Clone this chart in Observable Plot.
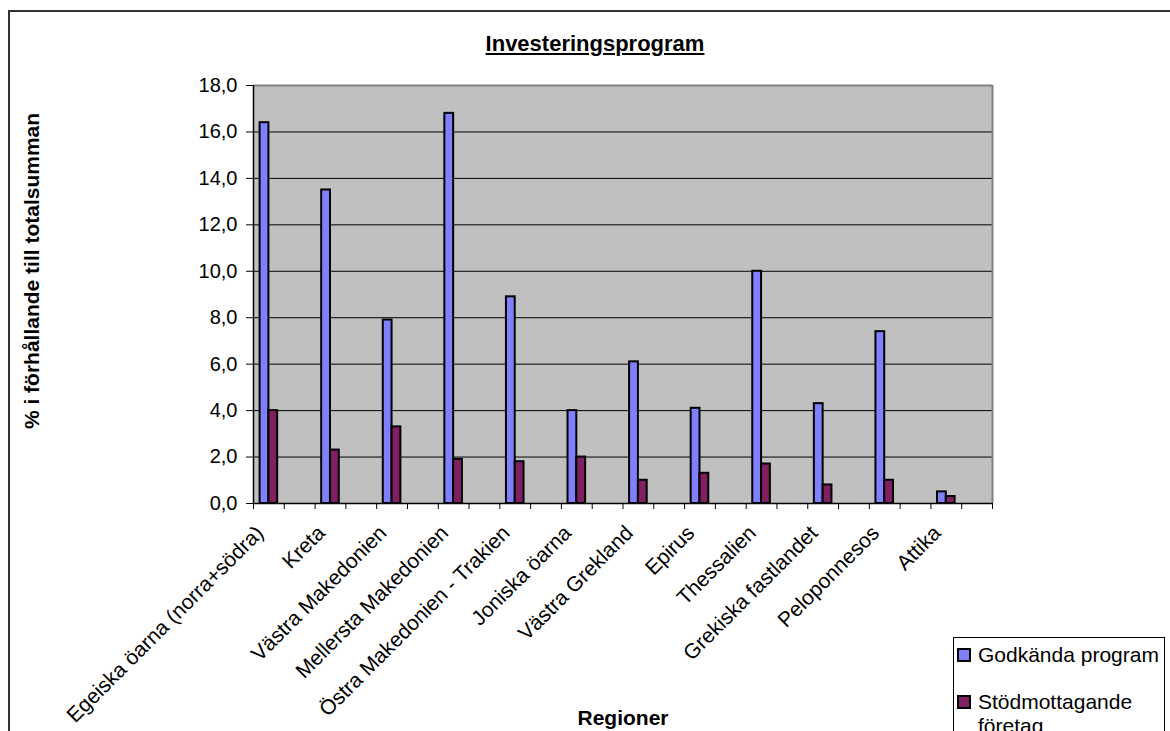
<!DOCTYPE html>
<html>
<head>
<meta charset="utf-8">
<script src="https://cdn.jsdelivr.net/npm/d3@7"></script>
<script src="https://cdn.jsdelivr.net/npm/@observablehq/plot@0.6"></script>
<style>
  html, body { margin: 0; padding: 0; background: #fff; overflow: hidden; }
  body { font-family: "Liberation Sans", Arial, sans-serif; }
  #wrap { position: relative; width: 1170px; height: 731px; overflow: hidden; }
  #outer { position: absolute; left: 8px; top: 10px; width: 1300px; height: 900px; border: 2px solid #333; box-sizing: border-box; }
  #chart { position: absolute; left: 0; top: 0; }
  .title { position: absolute; left: 0; width: 1190px; top: 33px; text-align: center; font-size: 22px; line-height: 22px; font-weight: bold; text-decoration: underline; }
  .ytitle { position: absolute; left: 32px; top: 271px; transform: translate(-50%, -50%) rotate(-90deg); white-space: nowrap; font-size: 21px; font-weight: bold; }
  .xtitle { position: absolute; left: 0; width: 1246px; top: 707px; text-align: center; font-size: 21px; line-height: 21px; font-weight: bold; }
  #legend { position: absolute; left: 953px; top: 637px; width: 212px; height: 200px; border: 1px solid #000; box-sizing: border-box; background: #fff; }
  .item { position: relative; padding-left: 24px; font-size: 21px; line-height: 24px; }
  .sw { position: absolute; left: 3px; top: 5px; width: 14px; height: 14px; border: 2px solid #000; box-sizing: border-box; }
</style>
</head>
<body>
<div id="wrap">
  <div id="outer"></div>
  <div id="chart"></div>
  <div class="title">Investeringsprogram</div>
  <div class="ytitle">% i förhållande till totalsumman</div>
  <div class="xtitle">Regioner</div>
  <div id="legend"></div>
</div>
<script>
// ---- data ----
const regions = [
  "Egeiska öarna (norra+södra)", "Kreta", "Västra Makedonien", "Mellersta Makedonien",
  "Östra Makedonien - Trakien", "Joniska öarna", "Västra Grekland", "Epirus",
  "Thessalien", "Grekiska fastlandet", "Peloponnesos", "Attika"
];
const godkanda = [16.4, 13.5, 7.9, 16.8, 8.9, 4.0, 6.1, 4.1, 10.0, 4.3, 7.4, 0.5];
const stod     = [4.0, 2.3, 3.3, 1.9, 1.8, 2.0, 1.0, 1.3, 1.7, 0.8, 1.0, 0.3];
const series = ["Godkända program", "Stödmottagande företag"];
const colors = ["#8080FF", "#802060"];
const yTicks = [0, 2, 4, 6, 8, 10, 12, 14, 16, 18];

// ---- build ----
// Each region occupies one category slot and is followed by an empty slot
// (as in the original worksheet): 24 category slots on the x axis.
const nSlots = regions.length * 2;
const slotOf = i => 2 * i;
// clustered bars inside a slot: Excel-style gap width 150 %
const inner = d3.scaleBand().domain(series).range([0, 1]).paddingInner(0).paddingOuter(0.75);
const rows = regions.flatMap((r, i) => [
  {region: r, series: series[0], value: godkanda[i], slot: slotOf(i)},
  {region: r, series: series[1], value: stod[i], slot: slotOf(i)}
]);
const labelPos = regions.map((r, i) => slotOf(i) + 0.5);

const W = 1170, H = 731;
const font = "'Liberation Sans', Arial, sans-serif";

const chart = Plot.plot({
  width: W, height: H,
  marginLeft: 253, marginRight: 178, marginTop: 85, marginBottom: 228,
  style: {fontFamily: font, fontSize: "20px", color: "#000", background: "transparent"},
  x: {domain: [0, nSlots], label: null},
  y: {domain: [0, 18], label: null},
  color: {domain: series, range: colors},
  marks: [
    Plot.frame({fill: "#C0C0C0", stroke: "none"}),
    Plot.gridY(yTicks, {stroke: "#000", strokeOpacity: 1, strokeWidth: 1}),
    Plot.ruleY([18], {stroke: "#808080", strokeWidth: 2}),
    Plot.ruleX([nSlots], {stroke: "#808080", strokeWidth: 2}),
    Plot.rectY(rows, {
      x1: d => d.slot + inner(d.series),
      x2: d => d.slot + inner(d.series) + inner.bandwidth(),
      y: "value", fill: "series", stroke: "#000", strokeWidth: 2
    }),
    Plot.ruleX([0], {stroke: "#000", strokeWidth: 1.5}),
    Plot.ruleY([0], {stroke: "#000", strokeWidth: 1.5}),
    Plot.axisY({ticks: yTicks, tickSize: 7, tickPadding: 9, tickFormat: d => d.toFixed(1).replace(".", ","), label: null, fontSize: 20}),
    Plot.axisX({anchor: "bottom", ticks: d3.range(nSlots + 1), tickSize: 6, tickFormat: () => "", label: null}),
    Plot.axisX({anchor: "bottom", ticks: labelPos, tickSize: 0, tickRotate: -45, tickPadding: 6,
      dx: -9, dy: 20,
      tickFormat: d => regions[labelPos.indexOf(d)], label: null, fontSize: 21})
  ]
});
document.getElementById("chart").appendChild(chart);

// legend
const lg = document.getElementById("legend");
series.forEach((s, i) => {
  const it = document.createElement("div");
  it.className = "item";
  it.style.marginTop = i === 0 ? "5px" : "23px";
  it.style.width = "185px";
  const sw = document.createElement("span");
  sw.className = "sw";
  sw.style.background = colors[i];
  it.appendChild(sw);
  it.appendChild(document.createTextNode(s));
  lg.appendChild(it);
});
</script>
</body>
</html>
